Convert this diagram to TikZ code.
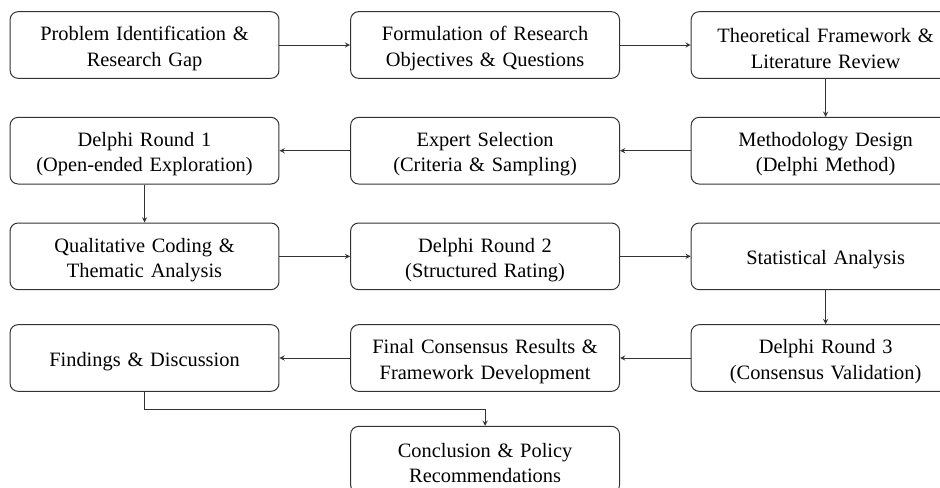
\documentclass[tikz,border=0pt]{standalone}
\usepackage{fontspec}
\setmainfont{Liberation Serif}
\usepackage{tikz}
\usetikzlibrary{shapes, arrows, positioning}

\begin{document}
\begin{tikzpicture}[->, >=stealth, node distance=28.5pt and 53pt, line width=0.75pt, draw=black!80]
		\tikzstyle{block}=[rectangle, draw=black!80, rounded corners=6pt, minimum width=200pt, minimum height=50pt, text width=195pt, align=center, font=\fontsize{15.3}{19}\selectfont, execute at begin node={\rule{0pt}{15.8pt}}]

		\clip (-108.4pt,33.75pt) rectangle (596.6pt,-331.5pt);

		\node[block] (problem) {Problem Identification \&\\ Research Gap};
		\node[block] (objectives) [right=of problem] {Formulation of Research\\ Objectives \& Questions};
		\node[block] (theory) [right=of objectives] {Theoretical Framework \&\\ Literature Review};

		\node[block] (method) [below=of theory] {Methodology Design\\ (Delphi Method)};
		\node[block] (experts) [left=of method] {Expert Selection\\ (Criteria \& Sampling)};
		\node[block] (round1) [left=of experts] {Delphi Round 1\\ (Open-ended Exploration)};

		\node[block] (coding) [below=of round1] {Qualitative Coding \&\\ Thematic Analysis};
		\node[block] (round2) [right=of coding] {Delphi Round 2\\ (Structured Rating)};
		\node[block] (stats) [right=of round2] {Statistical Analysis};

		\node[block] (round3) [below=25.5pt of stats] {Delphi Round 3\\ (Consensus Validation)};
		\node[block] (consensus) [left=of round3] {Final Consensus Results \&\\ Framework Development};
		\node[block] (findings) [left=of consensus] {Findings \& Discussion};

		\node[block] (conclusion) [below=25.5pt of consensus] {Conclusion \& Policy\\ Recommendations};

		\draw (problem) -- (objectives);
		\draw (objectives) -- (theory);
		\draw (theory) -- (method);
		\draw (method) -- (experts);
		\draw (experts) -- (round1);
		\draw (round1) -- (coding);
		\draw (coding) -- (round2);
		\draw (round2) -- (stats);
		\draw (stats) -- (round3);
		\draw (round3) -- (consensus);
		\draw (consensus) -- (findings);
		\draw (findings.south) -- ++(0,-13.5pt) -| (conclusion.north);
	\end{tikzpicture}
\end{document}
